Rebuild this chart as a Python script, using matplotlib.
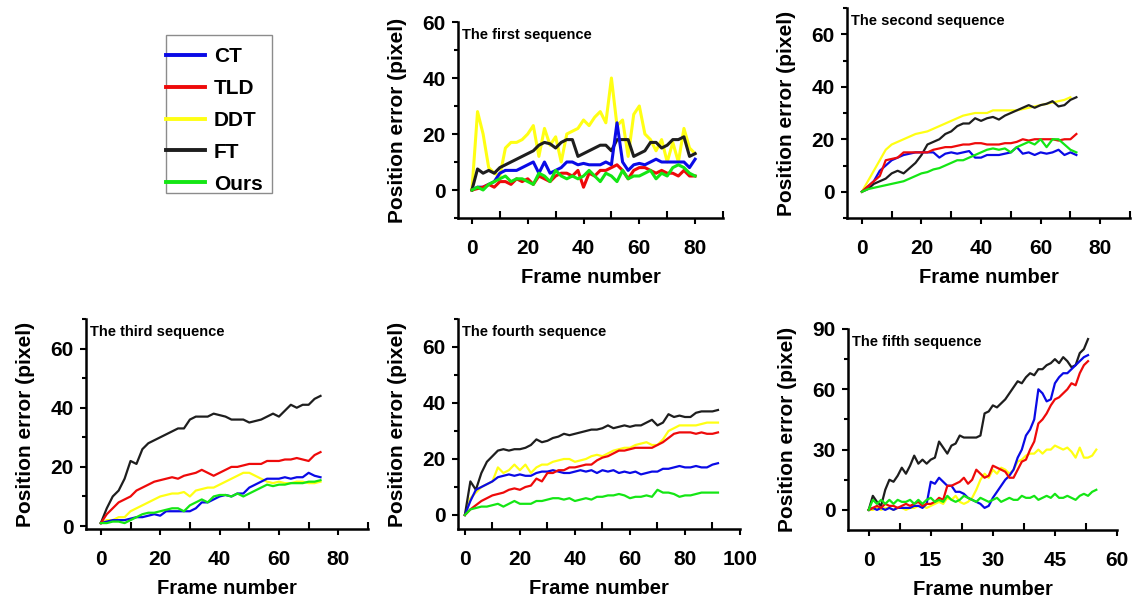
import matplotlib
matplotlib.use("Agg")
import matplotlib.pyplot as plt
import numpy as np
from matplotlib.ticker import MultipleLocator
from matplotlib.patches import Rectangle

plt.rcParams['font.family'] = ['Liberation Sans', 'DejaVu Sans']
plt.rcParams['font.weight'] = 'bold'
plt.rcParams['axes.labelweight'] = 'bold'

methods = ['CT', 'TLD', 'DDT', 'FT', 'Ours']
colors = {'CT': '#0a0ae6', 'TLD': '#ee0a0a', 'DDT': '#ffff14', 'FT': '#1e1e1e', 'Ours': '#14e614'}
draw_order = ['DDT', 'FT', 'CT', 'TLD', 'Ours']

# ---- sequence 1 (frames 0..80 step 2)
seq1_frames = list(range(0, 81, 2))
seq1_ct = [0, 1, 1, 2, 3, 6, 7, 7, 7, 8, 9, 10, 6, 10, 6, 7, 8, 10, 10, 9, 9.5, 9, 9, 9, 10, 9,
           24, 10, 7, 9, 9.5, 9, 10, 11, 10, 10, 10, 10, 10, 8, 11]
seq1_tld = [0, 0.5, 1, 2, 1, 3, 3, 2, 4, 3, 4, 2, 5, 4, 3, 5, 6, 6, 5, 7, 1, 6, 5, 7, 7, 8, 9, 7,
            4, 7, 8, 8, 7, 6, 7, 6, 6, 5, 7, 5, 5]
seq1_ddt = [0, 28, 20, 8, 6, 5, 15, 17, 17, 18, 20, 23, 12, 22, 16, 19, 10, 20, 21, 22, 25, 23,
            26, 28, 24, 40, 23, 25, 12, 27, 30, 20, 18, 14, 18, 10, 17, 10, 22, 15, 13]
seq1_ft = [0, 7.5, 6, 7, 6, 8, 9, 10, 11, 12, 13, 14, 16, 17, 16.5, 15, 17, 18, 18, 12, 13, 14,
           15, 16, 16, 14, 18, 18, 18, 12, 13, 14, 17, 17, 15, 16, 18, 18, 19, 12, 13]
seq1_ours = [0, 1, 0, 2, 3, 4, 5, 3, 4, 4, 3, 2, 6, 5, 3, 7, 5, 4, 5, 4, 5, 7, 5, 3, 6, 5, 3, 7,
             4, 5, 5, 6, 7, 4, 6, 5, 8, 9, 8, 6, 5]

# ---- sequence 2 (frames 0..72 step 2)
seq2_frames = list(range(0, 73, 2))
seq2_ct = [0, 2, 4, 8, 10, 12, 13, 14, 14.5, 15, 15, 15, 15, 13, 14.5, 15, 14.5, 15, 15.5, 13, 13,
           14, 14, 14, 14.5, 15, 17, 14.5, 15, 14, 15, 14.5, 15, 16, 14, 15, 14]
seq2_tld = [0, 2, 4, 6, 12, 12.5, 13, 15, 15, 15, 15, 15, 16, 16.5, 17, 17, 17.5, 18, 18, 18.5,
            18.5, 18, 18, 18, 18.5, 18.5, 19, 20, 19.5, 20, 20, 20, 20, 19.5, 20, 20, 22]
seq2_ddt = [0, 4, 8, 12, 16, 18, 19, 20, 21, 22, 22.5, 23, 24, 25, 26, 27, 28, 29, 29.5, 30, 30,
            30, 31, 31, 31, 31, 31, 31.5, 32, 32.5, 33, 33.5, 34, 34.5, 35, 36]
seq2_ft = [0, 1, 3, 4, 5, 7, 8, 7, 9, 11, 14, 18, 19, 20, 22, 23, 25, 26, 26, 28, 27, 28, 28.5,
           27.5, 29, 30, 31, 32, 33, 32, 33, 33.5, 34.5, 32.5, 33, 35, 36]
seq2_ours = [0, 1, 1.5, 2, 2.5, 3, 3.5, 4, 5, 6, 7, 7.5, 8.5, 9, 10, 11, 12, 12, 13, 14, 15, 16,
             16.5, 16, 16.5, 15, 17, 18, 19, 18, 20, 17, 20, 20, 18, 16, 15]

# ---- sequence 3 (frames 0..74 step 2)
seq3_frames = list(range(0, 75, 2))
seq3_ct = [1, 1.5, 2, 2, 2, 2.5, 3, 3, 3.5, 4, 3.5, 5, 5, 5, 5, 5, 6, 8, 8, 9, 10, 10.5, 10, 11,
           11, 13, 14, 15, 16, 16, 16, 16.5, 16, 16.5, 16.5, 18, 17, 16.5]
seq3_tld = [1, 4, 6, 8, 9, 10, 12, 13, 14, 15, 15.5, 16, 16.5, 16, 17, 17.5, 18, 19, 18, 17, 18,
            19, 20, 20, 20.5, 21, 21, 21, 22, 22, 22, 22.5, 22.5, 23, 22.5, 22, 24, 25]
seq3_ddt = [1, 2, 2, 3, 3, 5, 6, 7, 8, 9, 10, 10.5, 11, 11, 11.5, 10, 12, 12.5, 13, 13, 14, 15,
            16, 17, 18, 18, 17, 16, 15, 14.5, 15, 14.5, 14.5, 15, 15, 14.5, 14.5, 15]
seq3_ft = [1, 6, 10, 12, 16, 22, 21, 26, 28, 29, 30, 31, 32, 33, 33, 36, 37, 37, 37, 38, 37.5,
           37, 36, 36, 36, 35, 35.5, 36, 37, 38, 37, 39, 41, 40, 41, 41, 43, 44]
seq3_ours = [1, 1, 1.5, 1.5, 1, 2, 3, 4, 4.5, 4.5, 5, 5.5, 6, 6, 5, 7, 8, 9, 8, 10, 10.5, 10.5,
             10, 11, 10, 11, 12, 13, 14, 13.5, 14, 14, 14.5, 14.5, 14.5, 15, 15, 15.5]

# ---- sequence 4 (frames 0..92 step 2)
seq4_frames = list(range(0, 93, 2))
seq4_ct = [0, 5, 9, 10, 11, 12, 13.5, 14, 14.5, 14, 14.5, 14, 14, 15, 15.5, 15.5, 16, 15.5, 15,
           15, 15.5, 16, 15.5, 16, 15, 16, 15.5, 16, 15, 15.5, 15, 15.5, 14.5, 15, 15.5, 15.5,
           16.5, 16.5, 17, 17.5, 17, 17, 17.5, 17, 17, 18, 18.5]
seq4_tld = [0, 2, 3.5, 5, 6, 7, 7.5, 8, 9, 9.5, 9, 10, 10.5, 13, 12, 15, 15, 16, 16, 17, 17,
            17.5, 18, 18, 19.5, 20.5, 21, 22, 23, 23, 23.5, 24, 24, 24, 24, 25, 26, 27.5, 29,
            29.5, 29.5, 29.5, 29, 29.5, 29, 29, 29.5]
seq4_ddt = [0, 6, 8, 10, 11, 12, 17, 15, 16, 18, 16, 18, 15, 17, 18, 18, 19, 19.5, 20, 20, 19,
            19.5, 20, 21, 21.5, 21, 22, 23, 23.5, 24, 24, 25, 25.5, 26, 25, 25, 27, 30, 31, 32,
            32, 32, 32, 32.5, 33, 33, 33]
seq4_ft = [0, 12, 9, 15, 19, 21, 23, 23.5, 23, 23.5, 23.5, 24, 25, 27, 26, 26.5, 27.5, 28, 29,
           28.5, 29, 29.5, 30, 30.5, 30.5, 31, 32, 31, 31.5, 32, 31.5, 32, 32, 33, 34, 32, 33,
           36, 35, 35.5, 35, 35, 36.5, 37, 37, 37, 37.5]
seq4_ours = [0, 2, 2.5, 3, 3, 3.5, 4, 3, 4, 5, 4, 4, 4, 5, 5, 5.5, 6, 6, 5.5, 6, 5, 5.5, 6, 5.5,
             6.5, 6.5, 7, 7, 7.5, 7, 6, 6.5, 6.5, 7, 6.5, 9, 8, 8, 7.5, 6.5, 7, 7, 7.5, 8, 8, 8, 8]

# ---- sequence 5 (frames step 1)
seq5_frames_a = list(range(0, 54))
seq5_frames_b = list(range(0, 56))
seq5_ct = [0, 1, 0, 1, 0, 1, 0, 1, 1, 1, 1, 2, 2, 1, 3, 14, 13, 16, 14, 12, 12, 9, 9, 8, 6, 5, 4,
           3, 1, 2, 6, 9, 12, 15, 17, 20, 26, 30, 37, 40, 45, 60, 58, 54, 55, 63, 66, 68, 68, 70,
           72, 74, 76, 77]
seq5_tld = [0, 1, 2, 1, 3, 2, 2, 1, 2, 3, 2, 3, 4, 2, 3, 3, 4, 6, 5, 12, 12, 13, 14, 16, 13, 15,
            20, 18, 16, 17, 22, 21, 20, 19, 16, 16, 20, 24, 25, 30, 34, 43, 45, 48, 52, 55, 56,
            58, 60, 63, 62, 68, 72, 74]
seq5_ddt = [0, 0, 1, 0, 1, 1, 0, 1, 1, 0, 1, 1, 2, 2, 1, 2, 3, 4, 3, 6, 5, 7, 4, 3, 4, 6, 10, 15,
            18, 16, 20, 18, 21, 20, 18, 20, 24, 25, 27, 28, 28, 30, 28, 30, 30, 32, 31, 30, 31,
            29, 26, 31, 26, 26, 27, 30]
seq5_ft = [0, 7, 4, 2, 10, 15, 14, 17, 21, 18, 22, 27, 23, 25, 23, 25, 26, 34, 31, 28, 32, 33,
           37, 36, 36, 36, 36, 37, 48, 49, 52, 51, 53, 55, 58, 61, 64, 63, 66, 68, 67, 70, 70,
           72, 73, 75, 73, 76, 74, 71, 72, 78, 80, 85]
seq5_ours = [0, 5, 3, 5, 3, 5, 3, 5, 4, 4, 5, 3, 5, 3, 5, 6, 4, 5, 4, 7, 5, 4, 5, 7, 6, 5, 4, 6,
             5, 4, 5, 6, 4, 5, 6, 5, 5, 7, 6, 6, 7, 5, 6, 7, 6, 8, 6, 6, 7, 6, 5, 7, 8, 7, 9, 10]

panels = [
    dict(title='The first sequence', rect=[458, 22, 723, 218], xlim=(-5, 90), ylim=(-10, 60),
         xmaj=20, xmin=10, ymaj=20, ymin=10, lw=2.2,
         data={'CT': (seq1_frames, seq1_ct), 'TLD': (seq1_frames, seq1_tld),
               'DDT': (seq1_frames, seq1_ddt), 'FT': (seq1_frames, seq1_ft),
               'Ours': (seq1_frames, seq1_ours)}),
    dict(title='The second sequence', rect=[847, 8, 1130, 218], xlim=(-5, 90), ylim=(-10, 70),
         xmaj=20, xmin=10, ymaj=20, ymin=10, lw=1.6,
         data={'CT': (seq2_frames, seq2_ct), 'TLD': (seq2_frames, seq2_tld),
               'DDT': (seq2_frames[:-1], seq2_ddt), 'FT': (seq2_frames, seq2_ft),
               'Ours': (seq2_frames, seq2_ours)}),
    dict(title='The third sequence', rect=[86, 319, 368, 529], xlim=(-5, 90), ylim=(-1, 70),
         xmaj=20, xmin=10, ymaj=20, ymin=10, lw=1.6,
         data={'CT': (seq3_frames, seq3_ct), 'TLD': (seq3_frames, seq3_tld),
               'DDT': (seq3_frames, seq3_ddt), 'FT': (seq3_frames, seq3_ft),
               'Ours': (seq3_frames, seq3_ours)}),
    dict(title='The fourth sequence', rect=[458, 319, 740, 529], xlim=(-2.5, 100), ylim=(-5, 70),
         xmaj=20, xmin=10, ymaj=20, ymin=10, lw=1.6,
         data={'CT': (seq4_frames, seq4_ct), 'TLD': (seq4_frames, seq4_tld),
               'DDT': (seq4_frames, seq4_ddt), 'FT': (seq4_frames, seq4_ft),
               'Ours': (seq4_frames, seq4_ours)}),
    dict(title='The fifth sequence', rect=[848, 329, 1117, 530], xlim=(-5, 60), ylim=(-10, 90),
         xmaj=15, xmin=7.5, ymaj=30, ymin=15, lw=1.6,
         data={'CT': (seq5_frames_a, seq5_ct), 'TLD': (seq5_frames_a, seq5_tld),
               'DDT': (seq5_frames_b, seq5_ddt), 'FT': (seq5_frames_a, seq5_ft),
               'Ours': (seq5_frames_b, seq5_ours)}),
]

W, H = 1138, 598
fig = plt.figure(figsize=(W / 100, H / 100), dpi=100)

handles = {}
for p in panels:
    x0, y0, x1, y1 = p['rect']
    ax = fig.add_axes([x0 / W, 1 - y1 / H, (x1 - x0) / W, (y1 - y0) / H])
    for m in draw_order:
        fx, fy = p['data'][m]
        ln, = ax.plot(fx, fy, color=colors[m], lw=p['lw'], label=m)
        handles.setdefault(m, ln)
    ax.set_xlim(*p['xlim'])
    ax.set_ylim(*p['ylim'])
    ax.xaxis.set_minor_locator(MultipleLocator(p['xmin']))
    ax.yaxis.set_minor_locator(MultipleLocator(p['ymin']))
    # tick labels only inside the data range
    xt = np.arange(0, p['xlim'][1] + 0.01, p['xmaj'])
    ax.set_xticks(xt)
    yt = np.arange(0, p['ylim'][1] + 0.01, p['ymaj'])
    ax.set_yticks(yt)
    ax.set_xticklabels([f'{v:g}' for v in xt])
    ax.set_yticklabels([f'{v:g}' for v in yt])
    for s in ['top', 'right']:
        ax.spines[s].set_visible(False)
    for s in ['left', 'bottom']:
        ax.spines[s].set_linewidth(1.8)
    ax.tick_params(axis='x', which='major', direction='out', length=4, width=1.5, pad=11, labelsize=15)
    ax.tick_params(axis='x', which='minor', direction='in', length=5, width=1.5)
    ax.tick_params(axis='y', which='major', direction='out', length=4, width=1.5, pad=5, labelsize=15)
    ax.tick_params(axis='y', which='minor', direction='out', length=3, width=1.5)
    ax.set_xlabel('Frame number', fontsize=14.5, labelpad=7)
    ax.set_ylabel('Position error (pixel)', fontsize=15, labelpad=11)
    ax.annotate(p['title'], xy=(0, 1), xycoords='axes fraction', xytext=(4, -6),
                textcoords='offset pixels', ha='left', va='top', fontsize=10.5, fontweight='bold')

# legend box drawn as a plain rectangle, entries without frame
fig.patches.append(Rectangle((166 / W, 1 - 193 / H), 106 / W, 158 / H, transform=fig.transFigure,
                             fill=False, edgecolor='#8c8c8c', lw=1.0))
leg = fig.legend([handles[m] for m in methods], methods, loc='upper left',
                 bbox_to_anchor=(166 / W, 1 - 47 / H), bbox_transform=fig.transFigure,
                 frameon=False, fontsize=15, handlelength=1.85, handletextpad=0.45,
                 labelspacing=0.62, borderpad=0, borderaxespad=0)
for ln in leg.get_lines():
    ln.set_linewidth(2.8)

fig.savefig('out.png', dpi=100)
